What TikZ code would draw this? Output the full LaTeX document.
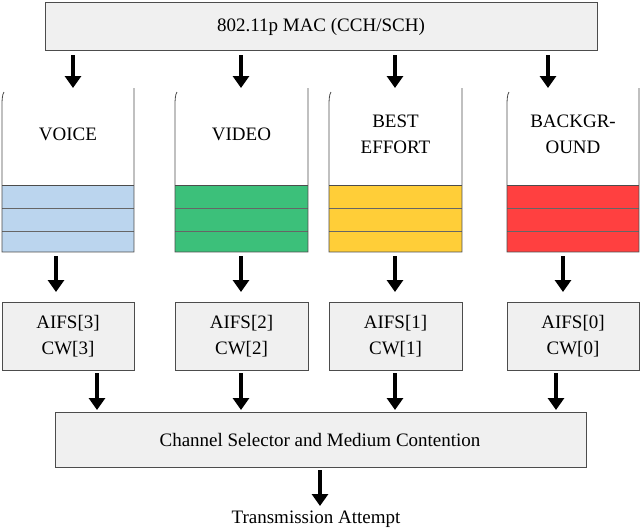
\documentclass[tikz,border=0pt]{standalone}
\usepackage{fontspec}
\setmainfont{Liberation Serif}
\usetikzlibrary{arrows.meta}
\begin{document}
\begin{tikzpicture}[x=1pt,y=-1pt,
  box/.style={draw=black!70,fill=black!6,line width=0.8pt},
  arr/.style={line width=4.5pt,-{Triangle[width=16pt,length=12pt]}},
  lab/.style={font=\fontsize{19}{26}\selectfont,align=center},
  q/.style={draw=black!70,line width=0.8pt}]
\useasboundingbox (0,0) rectangle (640,531);
\draw[box] (45,2) rectangle (597,50);
\node[lab] (mac) at (321,27) {802.11p MAC (CCH/SCH)};
\foreach \i/\xl/\xr/\col/\t/\ax/\bx/\cx/\aifs in {
  1/2/134/{rgb,255:red,187;green,213;blue,238}/VOICE/73/56/97/3,
  2/175/308/{rgb,255:red,60;green,192;blue,122}/VIDEO/241/241/241/2,
  3/329/462/{rgb,255:red,255;green,206;blue,56}/{BEST\\EFFORT}/395/395/395/1,
  4/507/639/{rgb,255:red,255;green,64;blue,64}/{BACKGR-\\OUND}/548/563/556/0}{
  \fill[color=\col] (\xl,185) rectangle (\xr,252);
  \draw[black!60] (\xl,208) -- (\xr,208) (\xl,231) -- (\xr,231);
  \draw[q] (\xl+2,92) .. controls (\xl,95) and (\xl,100) .. (\xl,110) -- (\xl,252) -- (\xr,252) -- (\xr,88);
  \draw[q] (\xl,185) -- (\xr,185);
  \node[lab] (t\i) at ({(\xl+\xr)/2},134) {\t};
  \coordinate (qa\i) at (\ax,55);
  \coordinate (qb\i) at (\ax,88);
  \draw[arr] (qa\i) -- (qb\i);
  \coordinate (da\i) at (\bx,256);
  \coordinate (db\i) at (\bx,292);
  \draw[arr] (da\i) -- (db\i);
  \draw[box] (\xl,302) rectangle (\xr,370);
  \node[lab] (a\i) at ({(\xl+\xr)/2},336) {AIFS[\aifs]\\CW[\aifs]};
  \coordinate (ea\i) at (\cx,373);
  \coordinate (eb\i) at (\cx,410);
  \draw[arr] (ea\i) -- (eb\i);
}
\draw[box] (55,412) rectangle (586,467);
\node[lab] (cs) at (320,440) {Channel Selector and Medium Contention};
\coordinate (f1) at (320,470);
\coordinate (f2) at (320,506);
\draw[arr] (f1) -- (f2);
\node[lab] (ta) at (316,519) {Transmission Attempt};
\end{tikzpicture}
\end{document}
